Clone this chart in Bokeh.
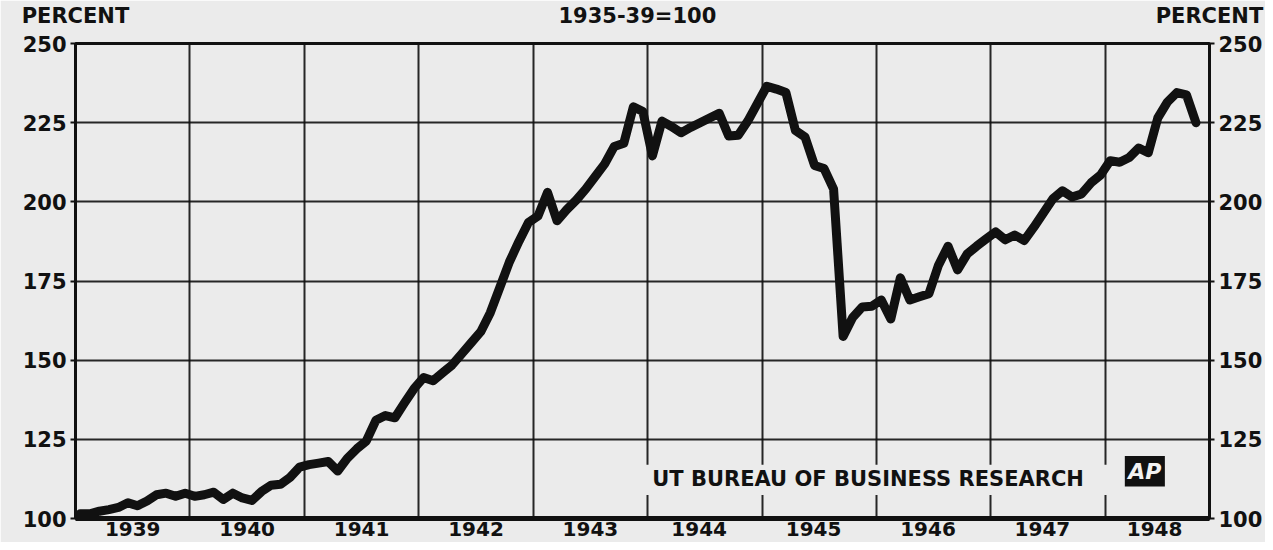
from bokeh.plotting import figure
from bokeh.models import Range1d, LinearAxis, FixedTicker, Label, BoxAnnotation, ColumnDataSource
from bokeh.embed import file_html
from bokeh.resources import INLINE

# ---- data (monthly index, 1935-39 = 100, Jan 1939 .. Oct 1948) ----
start_year = 1939
index_values = [
    101.5, 101.5, 102.3, 102.8, 103.5, 105.0, 104.0, 105.5, 107.5, 108.0, 107.0, 108.0,   # 1939
    107.0, 107.5, 108.3, 106.0, 108.0, 106.5, 105.7, 108.5, 110.5, 110.8, 113.0, 116.2,   # 1940
    117.0, 117.5, 118.0, 115.0, 119.0, 122.0, 124.5, 131.0, 132.5, 131.8, 136.5, 141.0,   # 1941
    144.5, 143.5, 146.0, 148.5, 152.0, 155.5, 159.0, 165.0, 173.0, 181.0, 187.5, 193.5,   # 1942
    195.5, 203.0, 194.0, 197.5, 200.5, 204.0, 208.0, 212.0, 217.5, 218.5, 230.0, 228.5,   # 1943
    214.5, 225.5, 223.8, 221.8, 223.5, 225.0, 226.5, 228.0, 220.8, 221.0, 225.5, 231.0,   # 1944
    236.5, 235.6, 234.5, 222.5, 220.5, 211.5, 210.5, 204.0, 157.5, 163.5, 166.8, 167.0,   # 1945
    169.0, 163.0, 176.0, 169.0, 170.0, 171.0, 180.0, 186.0, 178.5, 183.5, 186.0, 188.3,   # 1946
    190.5, 188.0, 189.5, 187.8, 192.0, 196.5, 201.0, 203.5, 201.5, 202.5, 206.0, 208.5,   # 1947
    213.0, 212.5, 214.0, 217.0, 215.5, 226.5, 231.5, 234.5, 233.8, 225.0,                 # 1948
]
year_labels = ["1939", "1940", "1941", "1942", "1943", "1944", "1945", "1946", "1947", "1948"]
year_label_pos = [1939.5, 1940.5, 1941.5, 1942.5, 1943.5, 1944.45, 1945.45, 1946.45, 1947.45, 1948.43]
year_bounds = [1940, 1941, 1942, 1943, 1944, 1945, 1946, 1947, 1948]
y_ticks = [100, 125, 150, 175, 200, 225, 250]
y_grid = [125, 150, 175, 200, 225]
header_texts = ["PERCENT", "1935-39=100", "PERCENT"]
header_pos = [1939.0, 1943.91, 1948.91]

months = [start_year + (i + 0.5) / 12 for i in range(len(index_values))]
src = ColumnDataSource(dict(x=months, y=index_values))

BG = "#ebebeb"
INK = "#111111"
FONT = "DejaVu Sans"

p = figure(width=1265, height=542, output_backend="svg", toolbar_location=None,
           x_range=Range1d(header_pos[0], header_pos[-1]), y_range=Range1d(100, 250),
           min_border_left=75, min_border_right=50, min_border_top=42, min_border_bottom=24,
           background_fill_color=BG, border_fill_color=BG)

p.outline_line_color = INK
p.outline_line_width = 3

# grid
p.xgrid.ticker = FixedTicker(ticks=year_bounds)
p.ygrid.ticker = FixedTicker(ticks=y_grid)
for g in (p.xgrid, p.ygrid):
    g.grid_line_color = INK
    g.grid_line_width = 2
    g.grid_line_alpha = 0.9

# bottom axis (years)
xa = p.xaxis[0]
xa.ticker = FixedTicker(ticks=year_label_pos)
xa.major_label_overrides = {pos: lab for pos, lab in zip(year_label_pos, year_labels)}
xa.major_tick_line_color = None
xa.major_tick_out = 0
xa.major_tick_in = 0
xa.minor_tick_line_color = None
xa.axis_line_color = INK
xa.axis_line_width = 5
xa.major_label_standoff = 3
xa.major_label_text_font = FONT
xa.major_label_text_font_style = "bold"
xa.major_label_text_font_size = "20px"
xa.major_label_text_color = INK

# header texts carried by an axis above the frame
ta = LinearAxis(ticker=FixedTicker(ticks=header_pos))
ta.major_label_overrides = {pos: lab for pos, lab in zip(header_pos, header_texts)}
ta.axis_line_color = None
ta.major_tick_line_color = None
ta.major_tick_out = 0
ta.major_tick_in = 0
ta.minor_tick_line_color = None
ta.major_label_standoff = 16
ta.major_label_text_font = FONT
ta.major_label_text_font_style = "bold"
ta.major_label_text_font_size = "21px"
ta.major_label_text_color = INK
p.add_layout(ta, "above")


def style_y(ax):
    ax.ticker = FixedTicker(ticks=y_ticks)
    ax.minor_tick_line_color = None
    ax.major_tick_out = 5
    ax.major_tick_in = 0
    ax.major_tick_line_width = 2
    ax.major_tick_line_color = INK
    ax.axis_line_color = INK
    ax.axis_line_width = 2
    ax.major_label_standoff = 4
    ax.major_label_text_font = FONT
    ax.major_label_text_font_style = "bold"
    ax.major_label_text_font_size = "21px"
    ax.major_label_text_color = INK


style_y(p.yaxis[0])
ra = LinearAxis()
style_y(ra)
p.add_layout(ra, "right")

# the index line
p.line("x", "y", source=src, line_color=INK, line_width=9, line_join="round", line_cap="round")

# source box
p.add_layout(BoxAnnotation(left=1943.88, right=1948.8, bottom=107.4, top=117.0,
                           fill_color=BG, fill_alpha=1.0, line_alpha=0))
p.add_layout(Label(x=1944.04, y=112.6, text="UT BUREAU OF BUSINESS RESEARCH", text_align="left",
                   text_baseline="middle", text_font=FONT, text_font_style="bold",
                   text_font_size="21px", text_color=INK))
p.add_layout(BoxAnnotation(left=1948.17, right=1948.52, bottom=110.1, top=119.7,
                           fill_color=INK, fill_alpha=1.0, line_alpha=0))
p.add_layout(Label(x=1948.345, y=114.9, text="AP", text_align="center", text_baseline="middle",
                   text_font=FONT, text_font_style="bold italic", text_font_size="22px",
                   text_color="#f2f2f2"))

open("out.html", "w").write(file_html(p, INLINE))
